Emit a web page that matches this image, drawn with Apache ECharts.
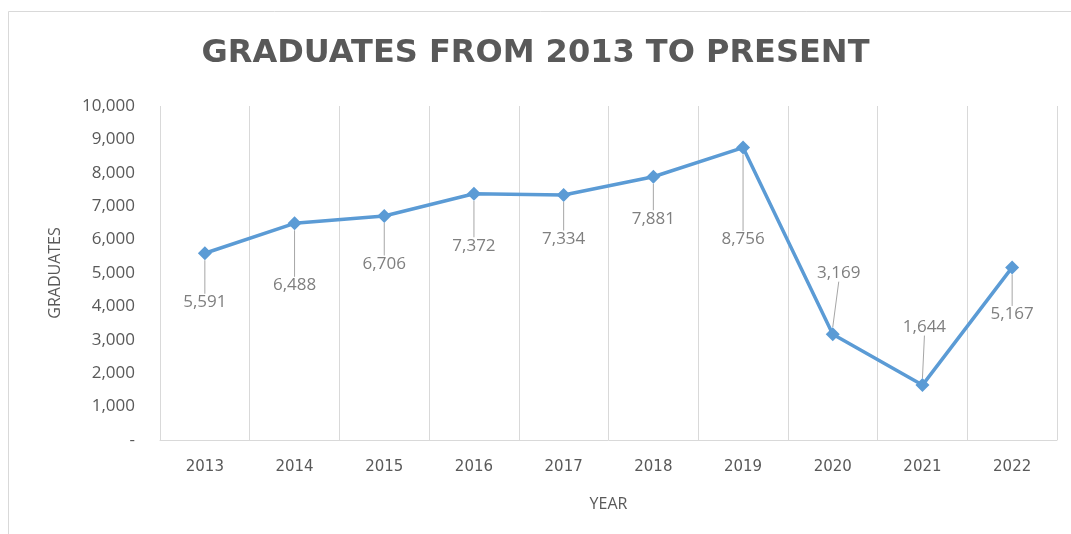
<!DOCTYPE html>
<html>
<head>
<meta charset="utf-8">
<style>
html,body{margin:0;padding:0;background:#fff;}
#chart{width:1071px;height:534px;}
</style>
<script src="https://cdn.jsdelivr.net/npm/echarts@6/dist/echarts.min.js"></script>
</head>
<body>
<div id="chart"></div>
<script>
const years = ['2013','2014','2015','2016','2017','2018','2019','2020','2021','2022'];
const graduates = [5591, 6488, 6706, 7372, 7334, 7881, 8756, 3169, 1644, 5167];
const yTicks = [0, 1000, 2000, 3000, 4000, 5000, 6000, 7000, 8000, 9000, 10000];

const chart = echarts.init(document.getElementById('chart'), null, {renderer: 'canvas'});
const labelShift = [[0,49],[0,62],[0,48],[0,52],[0,44],[0,42],[0,92],[6,-61],[2,-58],[0,47]];

chart.setOption({
  animation: false,
  backgroundColor: '#ffffff',
  graphic: [{
    type: 'rect', silent: true, z: -10,
    shape: {x: 8.5, y: 11.5, width: 1200, height: 700},
    style: {fill: 'none', stroke: '#d9d9d9', lineWidth: 1}
  }],
  title: {
    text: 'GRADUATES FROM 2013 TO PRESENT',
    left: 'center', top: 33,
    textStyle: {fontFamily: 'DejaVu Sans', fontWeight: 'bold', fontSize: 32, color: '#595959'}
  },
  grid: {left: 160, right: 14, top: 106, bottom: 94, containLabel: false},
  xAxis: {
    type: 'category',
    data: years,
    boundaryGap: true,
    name: 'YEAR',
    nameLocation: 'middle',
    nameGap: 56,
    nameTextStyle: {fontFamily: 'Open Sans', fontSize: 16, color: '#595959'},
    axisLine: {show: true, lineStyle: {color: '#d9d9d9', width: 1}},
    axisTick: {show: false},
    axisLabel: {fontFamily: 'DejaVu Sans', fontSize: 15, color: '#595959', margin: 20},
    splitLine: {show: true, lineStyle: {color: '#d9d9d9', width: 1}}
  },
  yAxis: {
    type: 'value',
    min: yTicks[0],
    max: yTicks[yTicks.length - 1],
    interval: yTicks[1] - yTicks[0],
    name: 'GRADUATES',
    nameLocation: 'middle',
    nameGap: 97,
    nameRotate: 90,
    nameTextStyle: {fontFamily: 'Open Sans', fontSize: 16, color: '#595959'},
    axisLine: {show: false},
    axisTick: {show: false},
    splitLine: {show: false},
    axisLabel: {
      fontFamily: 'Open Sans', fontSize: 17, color: '#595959', margin: 25,
      formatter: function (v) { return v === 0 ? '-' : v.toLocaleString('en-US'); }
    }
  },
  series: [{
    type: 'line',
    data: graduates,
    symbol: 'diamond',
    symbolSize: 14,
    lineStyle: {color: '#5B9BD5', width: 3.5},
    itemStyle: {color: '#5B9BD5'},
    label: {
      show: true,
      position: 'inside',
      fontFamily: 'Open Sans', fontSize: 17, color: '#7f7f7f',
      formatter: function (p) { return p.value.toLocaleString('en-US'); }
    },
    labelLine: {show: true, lineStyle: {color: '#a6a6a6', width: 1}},
    labelLayout: function (p) {
      const s = labelShift[p.dataIndex];
      return {dx: s[0], dy: s[1]};
    }
  }]
});
</script>
</body>
</html>
